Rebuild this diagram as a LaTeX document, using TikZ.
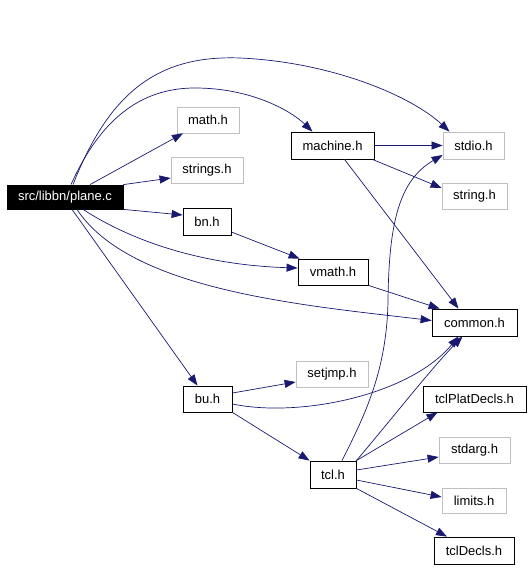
\documentclass[tikz,border=0pt]{standalone}
\usepackage{fontspec}
\setmainfont{Liberation Sans}
\usetikzlibrary{arrows.meta}
\definecolor{edgec}{RGB}{25,25,112}
\definecolor{grayb}{RGB}{191,191,191}
\begin{document}
\begin{tikzpicture}[x=1pt,y=-1pt,
  box/.style={draw=black, line width=0.8pt, inner sep=0pt, anchor=center, font=\fontsize{13}{15}\selectfont},
  sysbox/.style={box, draw=grayb},
  rootbox/.style={box, fill=black, text=white},
  dep/.style={draw=edgec, line width=0.7pt, -{Triangle[length=11pt,width=8pt]}}
]
\useasboundingbox (0,0) rectangle (531,569);
\node[rootbox, minimum width=116, minimum height=24] (plane) at (65,197) {src/libbn/plane.c};
\node[sysbox, minimum width=62, minimum height=26] (math) at (208,120) {math.h};
\node[sysbox, minimum width=72, minimum height=26] (strings) at (207,170) {strings.h};
\node[box, minimum width=48, minimum height=27] (bn) at (207,221.5) {bn.h};
\node[box, minimum width=83, minimum height=27] (machine) at (332.5,145.5) {machine.h};
\node[sysbox, minimum width=61, minimum height=27] (stdio) at (473.5,145.5) {stdio.h};
\node[sysbox, minimum width=65, minimum height=26] (string) at (474.5,196) {string.h};
\node[box, minimum width=70, minimum height=26] (vmath) at (333,272) {vmath.h};
\node[box, minimum width=85, minimum height=27] (common) at (474.5,322.5) {common.h};
\node[sysbox, minimum width=72, minimum height=26] (setjmp) at (332,374) {setjmp.h};
\node[box, minimum width=49, minimum height=26] (bu) at (207.5,399) {bu.h};
\node[box, minimum width=103, minimum height=26] (tclplat) at (474.5,399) {tclPlatDecls.h};
\node[sysbox, minimum width=71, minimum height=26] (stdarg) at (474.5,450) {stdarg.h};
\node[box, minimum width=46, minimum height=27] (tcl) at (333,474.5) {tcl.h};
\node[sysbox, minimum width=64, minimum height=25] (limits) at (474,500.5) {limits.h};
\node[box, minimum width=80, minimum height=27] (tcldecls) at (474,550.5) {tclDecls.h};

\draw[dep] ([xshift=8]plane.north) .. controls (110,90) and (160,55) .. (240,58) .. controls (330,62) and (410,95) .. ([xshift=-24]stdio.north);
\draw[dep] ([xshift=6]plane.north) .. controls (100,120) and (140,88) .. (195,88) .. controls (250,88) and (290,110) .. ([xshift=-20]machine.north);
\draw[dep] ([xshift=25]plane.north) -- ([xshift=-25]math.south);
\draw[dep] (plane.north east) -- ([yshift=-8]strings.west);
\draw[dep] (plane.south east) -- ([yshift=6.5]bn.west);
\draw[dep] ([xshift=18]plane.south) .. controls (130,240) and (200,265) .. ([yshift=4]vmath.west);
\draw[dep] ([xshift=12]plane.south) .. controls (130,290) and (300,305) .. ([yshift=2]common.west);
\draw[dep] ([xshift=7]plane.south) -- ([xshift=-10]bu.north);
\draw[dep] ([yshift=-10.5]bn.east) -- ([xshift=2]vmath.north west);
\draw[dep] (machine.east) -- (stdio.west);
\draw[dep] ([xshift=-2]machine.south east) -- ([yshift=8]string.west);
\draw[dep] ([xshift=12]machine.south) -- ([xshift=-16]common.north);
\draw[dep] (vmath.south east) -- ([xshift=8]common.north west);
\draw[dep] ([yshift=6]bu.east) -- ([yshift=-8]setjmp.west);
\draw[dep] ([yshift=-5]bu.east) .. controls (300,418) and (410,395) .. ([xshift=-16]common.south);
\draw[dep] (bu.south east) -- (tcl.north west);
\draw[dep] ([xshift=9]tcl.north) .. controls (365,415) and (387,370) .. (388,300) .. controls (389,220) and (400,180) .. ([yshift=-9.5]stdio.west);
\draw[dep] (tcl.north east) .. controls (395,415) and (430,370) .. ([xshift=-12]common.south);
\draw[dep] (tcl.north east) -- ([xshift=-37]tclplat.south);
\draw[dep] ([yshift=4.5]tcl.east) -- ([yshift=-7]stdarg.west);
\draw[dep] ([yshift=-5.5]tcl.east) -- ([yshift=3.5]limits.west);
\draw[dep] (tcl.south east) -- ([xshift=-27]tcldecls.north);
\end{tikzpicture}
\end{document}
